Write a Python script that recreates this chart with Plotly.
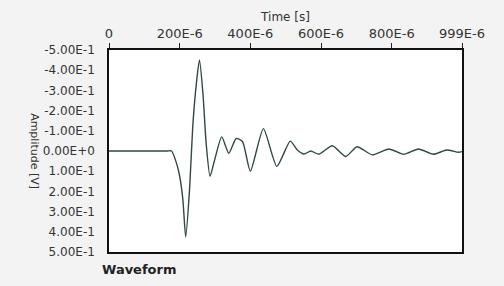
import plotly.graph_objects as go

# Time in microseconds (converted to seconds below), amplitude in volts
time_us = [0, 165, 177, 191, 200, 209, 217, 228, 237, 247, 256, 266, 275, 286, 299,
           319, 339, 360, 378, 400, 437, 475, 513, 533, 552, 571, 594, 632, 670,
           702, 745, 792, 834, 876, 918, 956, 989, 999]
amplitude = [0, 0, 0, 0.060, 0.125, 0.239, 0.425, 0.190, -0.120, -0.330, -0.451,
             -0.281, -0.037, 0.125, 0.044, -0.070, 0.011, -0.062, -0.046, 0.100,
             -0.111, 0.076, -0.049, -0.005, 0.015, 0, 0.016, -0.026, 0.027,
             -0.021, 0.019, -0.010, 0.016, -0.010, 0.016, -0.005, 0.006, 0.003]

x_tickvals = [0, 200e-6, 400e-6, 600e-6, 800e-6, 999e-6]
x_ticktext = ["0", "200E-6", "400E-6", "600E-6", "800E-6", "999E-6"]
y_tickvals = [-0.5, -0.4, -0.3, -0.2, -0.1, 0, 0.1, 0.2, 0.3, 0.4, 0.5]
y_ticktext = ["-5.00E-1", "-4.00E-1", "-3.00E-1", "-2.00E-1", "-1.00E-1", "0.00E+0",
              "1.00E-1", "2.00E-1", "3.00E-1", "4.00E-1", "5.00E-1"]

time_s = [t * 1e-6 for t in time_us]

fig = go.Figure()
fig.add_trace(go.Scatter(
    x=time_s, y=amplitude, mode="lines",
    line=dict(color="#2f4a3d", width=1.4, shape="spline", smoothing=0.6),
    hoverinfo="skip", showlegend=False,
))

font = "DejaVu Sans, Verdana, sans-serif"
fig.update_layout(
    width=504, height=286,
    margin=dict(l=109, r=42, t=50, b=34, autoexpand=False),
    paper_bgcolor="#f3f3f3", plot_bgcolor="#ffffff",
    font=dict(family=font, size=12, color="#333333"),
    xaxis=dict(
        side="top", range=[0, 999e-6], tickvals=x_tickvals, ticktext=x_ticktext,
        ticks="outside", ticklen=5, tickcolor="#222222", showgrid=False, zeroline=False,
        showline=True, linecolor="#111111", linewidth=1.5, mirror=True,
        tickfont=dict(size=13),
        title=dict(text="Time [s]", standoff=2, font=dict(size=12)),
    ),
    yaxis=dict(
        range=[0.5, -0.5], tickvals=y_tickvals, ticktext=y_ticktext,
        ticks="outside", ticklen=10, tickcolor="rgba(0,0,0,0)",
        showgrid=False, zeroline=False, tickfont=dict(size=12),
        showline=True, linecolor="#111111", linewidth=1.5, mirror=True,
    ),
    annotations=[
        dict(text="Amplitude [V]", textangle=90, xref="paper", yref="paper",
             x=-0.21, y=0.5, xanchor="center", yanchor="middle",
             showarrow=False, font=dict(size=11, color="#333333")),
        dict(text="<b>Waveform</b>", xref="paper", yref="paper",
             x=-0.026, y=-0.089, xanchor="left", yanchor="middle",
             showarrow=False, font=dict(size=13, color="#222222")),
    ],
)

fig.write_html(
    "out.html",
    config={"displayModeBar": False},
    post_script="document.body.style.margin='0';document.body.style.background='#f3f3f3';",
)
